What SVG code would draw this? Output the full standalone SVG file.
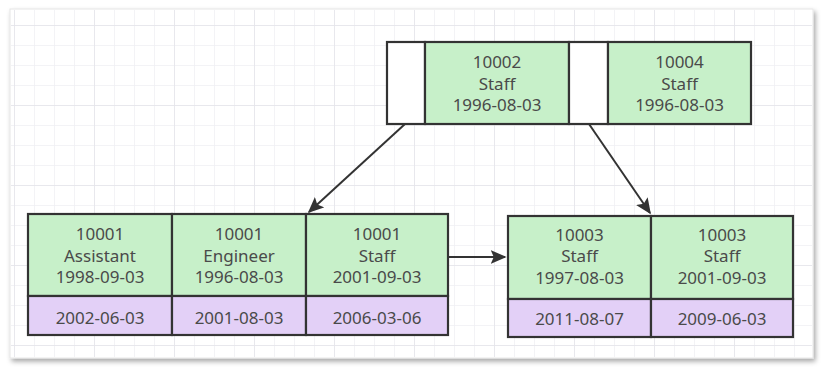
<svg xmlns="http://www.w3.org/2000/svg" width="824" height="370" viewBox="0 0 824 370">
  <defs>
    <style>
      .cell { stroke: #333; stroke-width: 2.2; }
      .key { fill: #c7f0c9; }
      .val { fill: #e3d0f7; }
      .ptr { fill: #ffffff; }
      .t { font-family: "Noto Sans", "Liberation Sans", sans-serif; font-size: 17px; fill: #4a4a4a; text-anchor: middle; }
      .edge { stroke: #333; stroke-width: 2; fill: none; marker-end: url(#arrow); }
    </style>
    <pattern id="minor" x="14" y="25" width="20" height="20" patternUnits="userSpaceOnUse">
      <path d="M0 0H20M0 0V20" stroke="#f0f0f4" stroke-width="1.5" fill="none"/>
    </pattern>
    <pattern id="major" x="14" y="25" width="80" height="80" patternUnits="userSpaceOnUse">
      <path d="M0 0H80M0 0V80" stroke="#e5e5ea" stroke-width="1.5" fill="none"/>
    </pattern>
    <filter id="shadow" x="-5%" y="-5%" width="110%" height="115%">
      <feDropShadow dx="2" dy="3" stdDeviation="2.5" flood-color="#000" flood-opacity="0.35"/>
    </filter>
    <marker id="arrow" viewBox="0 0 10 10" refX="9" refY="5" markerWidth="8" markerHeight="7" orient="auto" markerUnits="strokeWidth" preserveAspectRatio="none">
      <path d="M0 0L10 5L0 10L2 5Z" fill="#333"/>
    </marker>
  </defs>

  <!-- page background -->
  <rect width="824" height="370" fill="#ffffff"/>
  <rect x="10" y="9" width="803" height="349" fill="#ffffff" stroke="#e6e6e6" filter="url(#shadow)"/>
  <rect x="11" y="10" width="801" height="347" fill="url(#minor)"/>
  <rect x="11" y="10" width="801" height="347" fill="url(#major)"/>

  <!-- connectors -->
  <g id="edges">
    <line class="edge" x1="405" y1="124" x2="309" y2="212"/>
    <line class="edge" x1="589" y1="124" x2="650" y2="213"/>
    <line class="edge" x1="448" y1="257" x2="505" y2="257"/>
  </g>

  <!-- root node -->
  <g id="root">
    <rect class="cell ptr" x="387" y="42" width="38" height="82"/>
    <rect class="cell key" x="425" y="42" width="144" height="82"/>
    <rect class="cell ptr" x="569" y="42" width="39" height="82"/>
    <rect class="cell key" x="608" y="42" width="143" height="82"/>
    <text class="t" x="497" y="68">10002</text>
    <text class="t" x="497" y="90">Staff</text>
    <text class="t" x="497" y="111">1996-08-03</text>
    <text class="t" x="679.5" y="68">10004</text>
    <text class="t" x="679.5" y="90">Staff</text>
    <text class="t" x="679.5" y="111">1996-08-03</text>
  </g>

  <!-- left leaf -->
  <g id="leaf-left">
    <rect class="cell key" x="28" y="214" width="144" height="82"/>
    <rect class="cell key" x="172" y="214" width="134" height="82"/>
    <rect class="cell key" x="306" y="214" width="142" height="82"/>
    <rect class="cell val" x="28" y="296" width="144" height="39"/>
    <rect class="cell val" x="172" y="296" width="134" height="39"/>
    <rect class="cell val" x="306" y="296" width="142" height="39"/>
    <text class="t" x="100" y="240">10001</text>
    <text class="t" x="100" y="262">Assistant</text>
    <text class="t" x="100" y="283">1998-09-03</text>
    <text class="t" x="239" y="240">10001</text>
    <text class="t" x="239" y="262">Engineer</text>
    <text class="t" x="239" y="283">1996-08-03</text>
    <text class="t" x="377" y="240">10001</text>
    <text class="t" x="377" y="262">Staff</text>
    <text class="t" x="377" y="283">2001-09-03</text>
    <text class="t" x="100" y="324">2002-06-03</text>
    <text class="t" x="239" y="324">2001-08-03</text>
    <text class="t" x="377" y="324">2006-03-06</text>
  </g>

  <!-- right leaf -->
  <g id="leaf-right">
    <rect class="cell key" x="508" y="216" width="143" height="83"/>
    <rect class="cell key" x="651" y="216" width="142" height="83"/>
    <rect class="cell val" x="508" y="299" width="143" height="38"/>
    <rect class="cell val" x="651" y="299" width="142" height="38"/>
    <text class="t" x="579.5" y="241">10003</text>
    <text class="t" x="579.5" y="262">Staff</text>
    <text class="t" x="579.5" y="284">1997-08-03</text>
    <text class="t" x="722" y="241">10003</text>
    <text class="t" x="722" y="262">Staff</text>
    <text class="t" x="722" y="284">2001-09-03</text>
    <text class="t" x="579.5" y="325">2011-08-07</text>
    <text class="t" x="722" y="325">2009-06-03</text>
  </g>
</svg>
